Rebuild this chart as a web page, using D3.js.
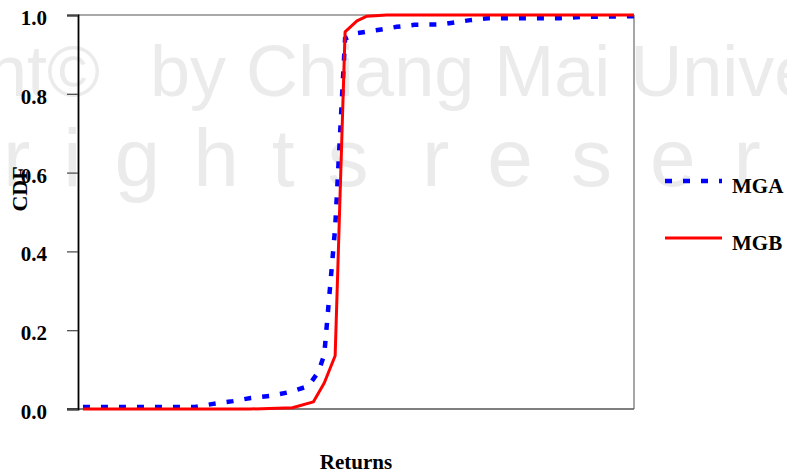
<!DOCTYPE html>
<html>
<head>
<meta charset="utf-8">
<script src="https://cdn.jsdelivr.net/npm/d3@7"></script>
<style>
  body { margin: 0; background: #fff; }
  svg { display: block; }
</style>
</head>
<body>
<div id="chart"></div>
<script>
// returns (x) and CDF values (y)
const returnsMGA = [-0.275, -0.162, -0.144, -0.124, -0.106, -0.087, -0.067, -0.048, -0.038, -0.032,
                    -0.021, -0.011, 0.001, 0.022, 0.041, 0.059, 0.085, 0.115, 0.133, 0.205, 0.226, 0.280];
const cdfMGA = [0.005, 0.005, 0.013, 0.020, 0.028, 0.033, 0.043, 0.058, 0.094, 0.137,
                0.460, 0.940, 0.954, 0.962, 0.970, 0.975, 0.976, 0.987, 0.992, 0.992, 0.995, 0.997];
const returnsMGB = [-0.275, -0.107, -0.064, -0.043, -0.032, -0.021, -0.011, 0.001, 0.011, 0.031, 0.280];
const cdfMGB = [0.000, 0.000, 0.003, 0.018, 0.066, 0.135, 0.957, 0.985, 0.997, 1.000, 1.000];
const yTicks = [0, 0.2, 0.4, 0.6, 0.8, 1.0];
const seriesNames = ["MGA", "MGB"];

const W = 787, H = 475;
const margin = { top: 15, right: 153, bottom: 66, left: 78 };
const font = "'Liberation Serif', 'Times New Roman', serif";

const svg = d3.select("#chart").append("svg")
    .attr("width", W)
    .attr("height", H);

// faint watermark behind the chart
const wm = svg.append("g")
    .attr("fill", "#ebebeb")
    .style("font-family", "'Liberation Sans', Arial, sans-serif");
wm.append("text").attr("x", 100).attr("y", 96).attr("text-anchor", "end")
    .style("font-size", "72px").text("Copyright©");
wm.append("text").attr("x", 150).attr("y", 96)
    .style("font-size", "72px").text("by Chiang Mai University");
wm.append("text").attr("x", 3).attr("y", 186)
    .style("font-size", "82px").style("letter-spacing", "33px").text("rights");
wm.append("text").attr("x", 422).attr("y", 186)
    .style("font-size", "82px").style("letter-spacing", "38px").text("reserved");

const x = d3.scaleLinear()
    .domain([-0.28, 0.28])
    .range([margin.left, W - margin.right]);

const y = d3.scaleLinear()
    .domain([0, 1])
    .range([H - margin.bottom, margin.top]);

// frame: top and right borders
svg.append("line")
    .attr("x1", x(-0.28)).attr("x2", x(0.28))
    .attr("y1", y(1)).attr("y2", y(1))
    .attr("stroke", "#555").attr("stroke-width", 1.2);
svg.append("line")
    .attr("x1", x(0.28)).attr("x2", x(0.28))
    .attr("y1", y(1)).attr("y2", y(0))
    .attr("stroke", "#888").attr("stroke-width", 1.5);

// bottom axis line, no ticks
svg.append("line")
    .attr("x1", x(-0.28) - 11).attr("x2", x(0.28))
    .attr("y1", y(0)).attr("y2", y(0))
    .attr("stroke", "#555").attr("stroke-width", 1.5);

// y axis
const yAxis = svg.append("g")
    .attr("transform", `translate(${margin.left},0)`)
    .call(d3.axisLeft(y).tickValues(yTicks).tickFormat(d3.format(".1f")).tickSize(11).tickPadding(20));
yAxis.select(".domain").attr("stroke", "#000").attr("stroke-width", 1.8);
yAxis.selectAll(".tick line").attr("stroke", "#444").attr("stroke-width", 1.2);
yAxis.selectAll(".tick text")
    .attr("dy", "0.45em")
    .attr("fill", "#000")
    .style("font-family", font)
    .style("font-weight", "bold")
    .style("font-size", "21px");

const line = d3.line()
    .x(d => x(d[0]))
    .y(d => y(d[1]));

const mga = returnsMGA.map((r, i) => [r, cdfMGA[i]]);
const mgb = returnsMGB.map((r, i) => [r, cdfMGB[i]]);

svg.append("path")
    .datum(mga)
    .attr("d", line)
    .attr("fill", "none")
    .attr("stroke", "#0000ff")
    .attr("stroke-width", 4.5)
    .attr("stroke-dasharray", "7,11");

svg.append("path")
    .datum(mgb)
    .attr("d", line)
    .attr("fill", "none")
    .attr("stroke", "#ff0000")
    .attr("stroke-width", 3)
    .attr("stroke-linejoin", "round");

// legend
const legend = svg.append("g");
const legendY = [181, 238];
seriesNames.forEach((name, i) => {
    legend.append("line")
        .attr("x1", 665).attr("x2", 722)
        .attr("y1", legendY[i]).attr("y2", legendY[i])
        .attr("stroke", i === 0 ? "#0000ff" : "#ff0000")
        .attr("stroke-width", i === 0 ? 4.5 : 3)
        .attr("stroke-dasharray", i === 0 ? "7,11" : null);
    legend.append("text")
        .attr("x", 732)
        .attr("y", legendY[i] + 12)
        .style("font-family", font)
        .style("font-weight", "bold")
        .style("font-size", "21px")
        .text(name);
});

// axis titles
svg.append("text")
    .attr("x", 356)
    .attr("y", 469)
    .attr("text-anchor", "middle")
    .style("font-family", font)
    .style("font-weight", "bold")
    .style("font-size", "21px")
    .text("Returns");

svg.append("text")
    .attr("transform", "translate(27,189) rotate(-90)")
    .attr("text-anchor", "middle")
    .style("font-family", font)
    .style("font-weight", "bold")
    .style("font-size", "22px")
    .text("CDF");
</script>
</body>
</html>
